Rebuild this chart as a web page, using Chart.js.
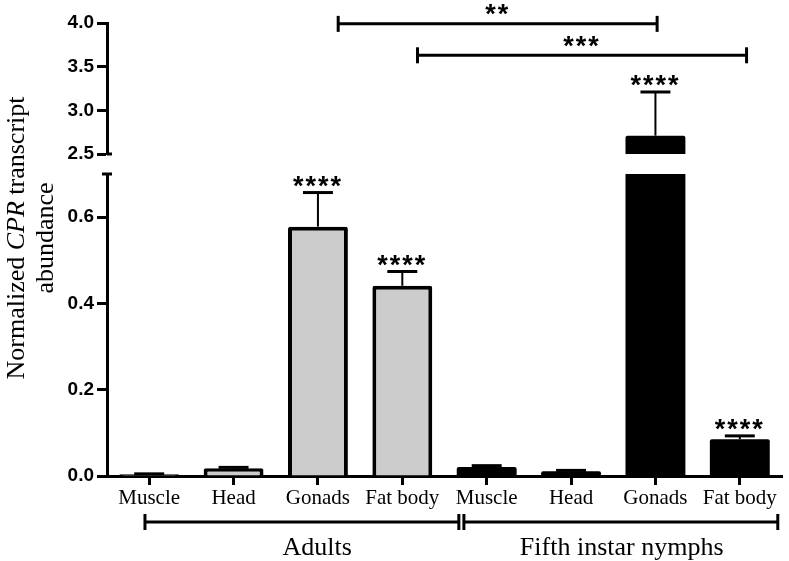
<!DOCTYPE html>
<html>
<head>
<meta charset="utf-8">
<script src="https://cdn.jsdelivr.net/npm/chart.js@4.4.0/dist/chart.umd.min.js"></script>
<style>
  html, body { margin: 0; padding: 0; background: #fff; }
  #wrap { position: relative; width: 789px; height: 561px; }
  #wrap canvas { position: absolute; left: 0; top: 0; }
</style>
</head>
<body>
<div id="wrap">
  <canvas id="upperChart" width="789" height="561"></canvas>
  <canvas id="lowerChart" width="789" height="561"></canvas>
</div>
<script>
// data
const categories = ['Muscle', 'Head', 'Gonads', 'Fat body', 'Muscle', 'Head', 'Gonads', 'Fat body'];
const stages = ['adult', 'adult', 'adult', 'adult', 'nymph', 'nymph', 'nymph', 'nymph'];
const means = [0.004, 0.018, 0.578, 0.441, 0.021, 0.011, 2.71, 0.085];
const errorTops = [0.005, 0.020, 0.657, 0.474, 0.024, 0.013, 3.21, 0.093];
const stars = ['', '', '****', '****', '', '', '****', '****'];

// broken y axis: two ranges and their ticks
const upperRange = [2.5, 4.0];
const upperTicks = [2.5, 3.0, 3.5, 4.0];
const lowerRange = [0, 0.7];
const lowerTicks = [0, 0.2, 0.4, 0.6];

// pairwise comparisons (category positions, value level)
const compFrom = [2.24, 3.18];
const compTo = [6.02, 7.08];
const compLevel = [3.99, 3.63];
const compLabel = ['**', '***'];

// group brackets under the axis
const groupLabels = ['Adults', 'Fifth instar nymphs'];
const groupFrom = [-0.05, 3.73];
const groupTo = [3.67, 7.45];
const groupLabelAt = [1.99, 5.6];

const stageColors = { adult: '#cccccc', nymph: '#000000' };
const stageBorders = { adult: 4, nymph: 0 };
const SERIF = '"Liberation Serif", "Times New Roman", serif';
const SANS = '"Liberation Sans", Arial, sans-serif';

function vline(ctx, x, y1, y2) { ctx.beginPath(); ctx.moveTo(x, y1); ctx.lineTo(x, y2); ctx.stroke(); }
function hline(ctx, x1, x2, y) { ctx.beginPath(); ctx.moveTo(x1, y); ctx.lineTo(x2, y); ctx.stroke(); }

// draws star text with glyph centre at cy
function drawStars(ctx, text, cx, cy, size) {
    ctx.save();
    ctx.font = 'bold ' + size + 'px ' + SANS;
    ctx.letterSpacing = '2px';
    ctx.fillStyle = '#000';
    ctx.textAlign = 'center';
    ctx.textBaseline = 'alphabetic';
    const m = ctx.measureText(text);
    const base = cy + (m.actualBoundingBoxAscent - m.actualBoundingBoxDescent) / 2;
    ctx.fillText(text, cx, base);
    ctx.restore();
}

const errorBarPlugin = {
    id: 'errorBars',
    afterDatasetsDraw(chart) {
        const ctx = chart.ctx;
        const y = chart.scales.y;
        const meta = chart.getDatasetMeta(0);
        ctx.save();
        ctx.strokeStyle = '#000';
        meta.data.forEach((bar, i) => {
            const top = errorTops[i];
            if (top > y.max || top < y.min) return;
            const yTop = y.getPixelForValue(top);
            const yBar = y.getPixelForValue(Math.max(means[i], y.min));
            const half = bar.width * 0.25;
            ctx.lineWidth = 2;
            vline(ctx, bar.x, yBar, yTop);
            ctx.lineWidth = 3;
            hline(ctx, bar.x - half, bar.x + half, yTop);
            if (stars[i]) drawStars(ctx, stars[i], bar.x, yTop - 11, 27);
        });
        ctx.restore();
    }
};

const upperExtras = {
    id: 'upperExtras',
    afterDraw(chart) {
        const ctx = chart.ctx;
        const x = chart.scales.x;
        const y = chart.scales.y;
        const area = chart.chartArea;
        ctx.save();
        ctx.strokeStyle = '#000';
        ctx.lineWidth = 3;
        // axis break cap
        hline(ctx, area.left, area.left + 5, area.bottom);
        // comparison brackets
        compLabel.forEach((lab, i) => {
            const x1 = x.getPixelForValue(compFrom[i]);
            const x2 = x.getPixelForValue(compTo[i]);
            const yy = y.getPixelForValue(compLevel[i]);
            hline(ctx, x1, x2, yy);
            vline(ctx, x1, yy - 8, yy + 8);
            vline(ctx, x2, yy - 8, yy + 8);
            drawStars(ctx, lab, (x1 + x2) / 2, yy - 14, 27);
        });
        ctx.restore();
    }
};

const lowerExtras = {
    id: 'lowerExtras',
    afterDraw(chart) {
        const ctx = chart.ctx;
        const x = chart.scales.x;
        const area = chart.chartArea;
        ctx.save();
        ctx.strokeStyle = '#000';
        ctx.lineWidth = 3;
        // axis break cap
        hline(ctx, area.left - 5, area.left + 5, area.top);

        // group brackets
        const by = area.bottom + 46;
        ctx.fillStyle = '#000';
        ctx.font = '26px ' + SERIF;
        ctx.textAlign = 'center';
        ctx.textBaseline = 'middle';
        groupLabels.forEach((lab, i) => {
            const x1 = x.getPixelForValue(groupFrom[i]);
            const x2 = x.getPixelForValue(groupTo[i]);
            hline(ctx, x1, x2, by);
            vline(ctx, x1, by - 8, by + 8);
            vline(ctx, x2, by - 8, by + 8);
            ctx.fillText(lab, x.getPixelForValue(groupLabelAt[i]), area.bottom + 72);
        });

        // y axis title, two lines, CPR in italics
        const parts = [['Normalized ', ''], ['CPR', 'italic '], [' transcript', '']];
        const size = 26;
        ctx.textAlign = 'left';
        ctx.textBaseline = 'alphabetic';
        let total = 0;
        parts.forEach(p => { ctx.font = p[1] + size + 'px ' + SERIF; total += ctx.measureText(p[0]).width; });
        ctx.save();
        ctx.translate(24, 238);
        ctx.rotate(-Math.PI / 2);
        let px = -total / 2;
        parts.forEach(p => {
            ctx.font = p[1] + size + 'px ' + SERIF;
            ctx.fillText(p[0], px, 0);
            px += ctx.measureText(p[0]).width;
        });
        ctx.restore();
        ctx.save();
        ctx.translate(53, 238);
        ctx.rotate(-Math.PI / 2);
        ctx.font = size + 'px ' + SERIF;
        ctx.textAlign = 'center';
        ctx.fillText('abundance', 0, 0);
        ctx.restore();
        ctx.restore();
    }
};

function yAxis(range, ticks) {
    return {
        min: range[0],
        max: range[1],
        afterFit: s => { s.width = 107; },
        afterBuildTicks: s => { s.ticks = ticks.map(v => ({ value: v })); },
        border: { display: true, color: '#000', width: 3 },
        grid: { drawOnChartArea: false, drawTicks: true, tickLength: 10, tickWidth: 3, tickColor: '#000' },
        ticks: {
            color: '#000',
            padding: 3,
            font: { family: SANS, size: 19, weight: 'bold' },
            callback: v => Number(v).toFixed(1)
        }
    };
}

function barDataset(values) {
    return {
        data: values,
        backgroundColor: stages.map(s => stageColors[s]),
        borderColor: '#000',
        borderWidth: stages.map(s => stageBorders[s]),
        borderRadius: 2,
        barPercentage: 0.71,
        categoryPercentage: 1.0
    };
}

// upper panel of the broken axis
new Chart(document.getElementById('upperChart'), {
    type: 'bar',
    data: {
        labels: categories,
        datasets: [barDataset(means.map(v => v > upperRange[0] ? v : null))]
    },
    options: {
        responsive: false,
        animation: false,
        layout: { padding: { left: 0, right: 7, top: 23, bottom: 407 } },
        plugins: { legend: { display: false }, tooltip: { enabled: false } },
        scales: {
            x: { display: false },
            y: yAxis(upperRange, upperTicks)
        }
    },
    plugins: [errorBarPlugin, upperExtras]
});

// lower panel
new Chart(document.getElementById('lowerChart'), {
    type: 'bar',
    data: {
        labels: categories,
        datasets: [barDataset(means)]
    },
    options: {
        responsive: false,
        animation: false,
        layout: { padding: { left: 0, right: 7, top: 174, bottom: 0 } },
        plugins: { legend: { display: false }, tooltip: { enabled: false } },
        scales: {
            x: {
                afterFit: s => { s.height = 85; },
                border: { display: true, color: '#000', width: 3 },
                grid: { offset: false, drawOnChartArea: false, drawTicks: true, tickLength: 9, tickWidth: 3, tickColor: '#000' },
                ticks: {
                    color: '#000',
                    padding: 1,
                    maxRotation: 0,
                    autoSkip: false,
                    font: { family: SERIF, size: 21 }
                }
            },
            y: yAxis(lowerRange, lowerTicks)
        }
    },
    plugins: [errorBarPlugin, lowerExtras]
});
</script>
</body>
</html>
